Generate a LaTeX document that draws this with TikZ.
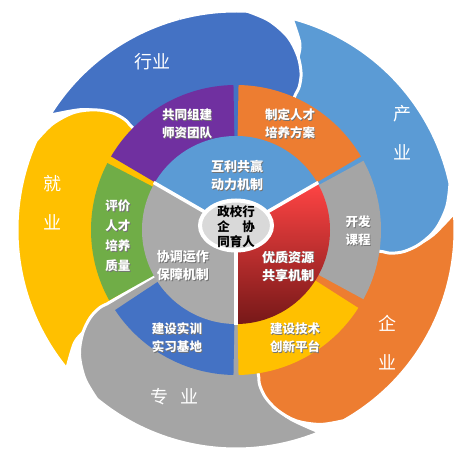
\documentclass[tikz,border=0pt]{standalone}
\usepackage{fontspec}
\newfontfamily\cjk{Noto Sans CJK SC}
\definecolor{cD}{HTML}{4472C4}
\definecolor{cL}{HTML}{5B9BD5}
\definecolor{cO}{HTML}{ED7D31}
\definecolor{cG}{HTML}{A5A5A5}
\definecolor{cGi}{HTML}{AAAAAA}
\definecolor{cY}{HTML}{FFC000}
\definecolor{cP}{HTML}{7030A0}
\definecolor{cGr}{HTML}{70AD47}
\definecolor{cC}{HTML}{D9D9D9}
\definecolor{rTop}{HTML}{FF4444}
\definecolor{rBot}{HTML}{761818}
% #1 colour, #2 head angle, #3 tail angle, #4 previous head angle
\newcommand\outshape[4]{%
  \fill[#1, draw=white, line width=3pt, line join=round]
    (#3:219pt) arc[start angle=#3, end angle={#2+21}, radius=219pt]
    -- plot[smooth, tension=0.55] coordinates {({#2+21}:219pt) ({#2+15}:212pt) ({#2+9}:200pt) ({#2+4.5}:185pt) ({#2+1.5}:170pt) ({#2+0.2}:157pt) ({#2+0.3}:149pt)}
    -- ({#2-1}:60pt) arc[start angle={#2-1}, end angle={#4+1}, radius=60pt]
    -- ({#4+1}:140pt)
    -- plot[smooth, tension=0.5] coordinates {({#4+1}:150pt) ({#4+4}:180pt) ({#4+0.55*(#3-(#4))}:197pt) (#3:219pt)}
    -- cycle;}
\newcommand\ringseg[4]{%
  \fill[#1] (#2:#4) arc[start angle=#2, end angle=#3, radius=#4] -- (#3:145pt) arc[start angle=#3, end angle=#2, radius=145pt] -- cycle;}
\tikzset{
  outlbl/.style={text=white, font=\cjk\fontsize{18}{39}\selectfont, align=center, inner sep=0pt},
  ringlbl/.style={text=white, font=\cjk\bfseries\fontsize{12.5}{18}\selectfont, align=center, inner sep=0pt},
  shadowlbl/.style={text=black!55, xshift=0.8pt, yshift=-0.8pt},
  centerlbl/.style={text=black, font=\cjk\bfseries\fontsize{12.5}{15}\selectfont, align=center, inner sep=0pt}
}
\newcommand\slabel[4][]{%
  \node[ringlbl, shadowlbl, #1] (#2s) at (#3) {#4};
  \node[ringlbl, #1] (#2) at (#3) {#4};}
\begin{document}
\begin{tikzpicture}[x=1pt,y=1pt]
\useasboundingbox (-236,-233) rectangle (237,230);
\fill[white] (-236,-233) rectangle (237,230);
% outer swirl shapes
\outshape{cD}{66}{148.4}{135}
\outshape{cY}{135}{219.4}{209.5}
\outshape{cG}{-150.5}{-67.5}{-81.5}
\outshape{cO}{-81.5}{4.5}{-8.7}
\outshape{cL}{-8.7}{75.2}{66}
\begin{scope}
  \clip (0,0) -- (50:330pt) -- (105:330pt) -- cycle;
  \outshape{cD}{66}{148.4}{135}
\end{scope}
% middle ring
\ringseg{cP}{91}{149.5}{93pt}
\ringseg{cGr}{152.5}{209}{93pt}
\ringseg{cD}{213.5}{269}{93pt}
\ringseg{cY}{271}{327.5}{93pt}
\ringseg{cG}{331.5}{388.5}{93pt}
\ringseg{cO}{30.5}{89}{93pt}
% inner disk
\fill[cL] (0,0) -- (30:94pt) arc[start angle=30, end angle=150, radius=94pt] -- cycle;
\fill[cGi] (0,0) -- (150:94pt) arc[start angle=150, end angle=270, radius=94pt] -- cycle;
\shade[top color=rTop, bottom color=rBot] (0,0) -- (270:94pt) arc[start angle=270, end angle=390, radius=94pt] -- cycle;
\foreach \a in {30,150,270} \draw[white, line width=3.5pt] (0,0) -- (\a:95pt);
% centre
\filldraw[fill=cC, draw=white, line width=4pt] (0,4.5) ellipse[x radius=36pt, y radius=25pt];
\node[centerlbl] (core) at (0,3) {政校行\\企\quad 协\\同育人};
% outer labels
\node[outlbl] (hangye) at (-83,168) {行业};
\node[outlbl] (chanye) at (166,97.5) {产\\业};
\node[outlbl] (jiuye) at (-183,27.5) {就\\业};
\node[outlbl] (qiye) at (151,-113) {企\\业};
\node[outlbl] (zhuanye) at (-61,-167) {专\hspace{12pt}业};
% ring labels
\slabel{shizi}{-49,106}{共同组建\\师资团队}
\slabel{fangan}{54,106}{制定人才\\培养方案}
\slabel{kecheng}{122,-1}{开发\\课程}
\slabel{pingtai}{59,-107.5}{建设技术\\创新平台}
\slabel{jidi}{-59,-107.5}{建设实训\\实习基地}
\slabel[font=\cjk\bfseries\fontsize{12.5}{20}\selectfont]{zhiliang}{-118,-5.5}{评价\\人才\\培养\\质量}
% inner labels
\slabel[font=\cjk\bfseries\fontsize{13}{18}\selectfont]{dongli}{1,54}{互利共赢\\动力机制}
\slabel[font=\cjk\bfseries\fontsize{13}{18}\selectfont]{baozhang}{-53,-36}{协调运作\\保障机制}
\slabel[font=\cjk\bfseries\fontsize{13}{18}\selectfont]{gongxiang}{52,-36}{优质资源\\共享机制}
\end{tikzpicture}
\end{document}
